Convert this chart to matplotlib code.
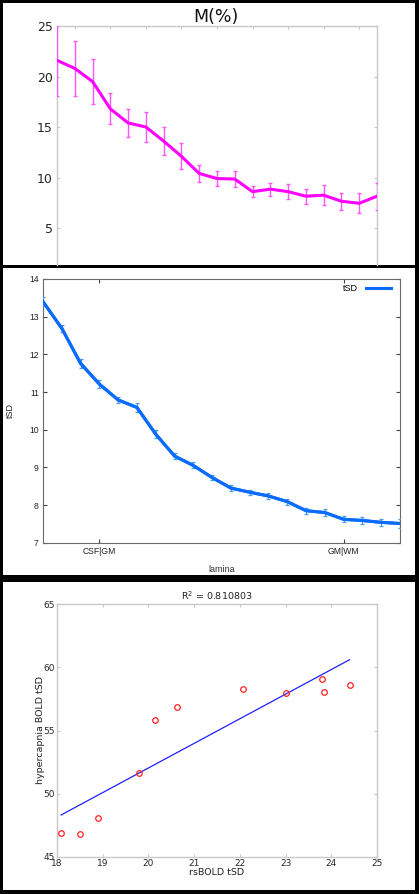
"""
Three stacked panels: M(%) per lamina, tSD per lamina, and a tSD scatter with fit
"""
import matplotlib
matplotlib.use('Agg')
import matplotlib.pyplot as plt
import numpy as np
from matplotlib.patches import Rectangle

# --- panel 1: M(%) per layer ---
m_layer = np.arange(1, 20)
m_mean = [21.6, 20.8, 19.5, 16.8, 15.4, 15.0, 13.6, 12.1, 10.4, 9.9, 9.85,
          8.6, 8.85, 8.6, 8.15, 8.25, 7.65, 7.45, 8.15]
m_err = [3.5, 2.7, 2.2, 1.55, 1.4, 1.45, 1.4, 1.3, 0.87, 0.7, 0.8,
         0.53, 0.65, 0.72, 0.74, 1.0, 0.85, 0.97, 1.33]

# --- panel 2: tSD per lamina ---
lamina = np.arange(1, 21)
tsd_mean = [13.40, 12.69, 11.76, 11.21, 10.79, 10.59, 9.88, 9.30, 9.05, 8.73,
            8.45, 8.34, 8.24, 8.09, 7.85, 7.80, 7.62, 7.59, 7.54, 7.51]
tsd_err = [0.12, 0.10, 0.11, 0.11, 0.09, 0.11, 0.10, 0.09, 0.08, 0.06,
           0.08, 0.07, 0.08, 0.08, 0.08, 0.10, 0.08, 0.09, 0.09, 0.13]
lamina_ticks = [4, 17]
lamina_labels = ['CSF|GM', 'GM|WM']

# --- panel 3: rsBOLD vs hypercapnia tSD ---
rs_tsd = [18.09, 18.50, 18.90, 19.79, 20.15, 20.63, 22.07, 23.00, 23.80, 23.85, 24.40]
hc_tsd = [46.85, 46.77, 48.06, 51.66, 55.86, 56.84, 58.32, 57.95, 59.06, 58.03, 58.63]

W, H = 419, 894


def px_axes(fig, x0, x1, y0, y1):
    """Axes from pixel box (y measured from top)"""
    return fig.add_axes([x0 / W, 1 - y1 / H, (x1 - x0) / W, (y1 - y0) / H])


def add_panel_bg(fig, x0, x1, y0, y1):
    fig.add_artist(Rectangle((x0 / W, 1 - y1 / H), (x1 - x0) / W, (y1 - y0) / H,
                             transform=fig.transFigure, facecolor='white',
                             edgecolor='none', zorder=-1))


def matlab_axes(ax, color='#c8c8c8', fs=9.5):
    for sp in ax.spines.values():
        sp.set_color(color)
        sp.set_linewidth(1.0)
    ax.tick_params(direction='in', length=2.5, width=0.8, color=color,
                   labelcolor='#262626', labelsize=fs, top=True, right=True)


fig = plt.figure(figsize=(W / 100, H / 100), dpi=100, facecolor='black')
add_panel_bg(fig, 3, 415, 3, 265)
add_panel_bg(fig, 3, 415, 268, 575)
add_panel_bg(fig, 3, 415, 582, 890)

# Panel 1
ax1 = px_axes(fig, 57, 377, 26, 265)
ax1.errorbar(m_layer, m_mean, yerr=m_err, color='#ff00ff', lw=2.2,
             ecolor='#ff55ff', elinewidth=1.0, capsize=1.5, capthick=1.0, zorder=3)
ax1.set_xlim(1, 19)
ax1.set_ylim(1.34, 25)
ax1.set_xticks(np.arange(2, 19, 2))
ax1.set_yticks([5, 10, 15, 20, 25])
matlab_axes(ax1, fs=9)
ax1.spines['bottom'].set_visible(False)
ax1.tick_params(bottom=False, labelbottom=False, pad=3)
ax1.set_facecolor('white')
fig.text(216 / W, 1 - 17 / H, 'M(%)', ha='center', va='center', fontsize=12.5, color='#111111')

# Panel 2 (gnuplot look)
gp = ['Liberation Sans', 'DejaVu Sans']
ax2 = px_axes(fig, 43, 400, 279, 542.7)
ax2.errorbar(lamina, tsd_mean, yerr=tsd_err, color='#0a6cff', lw=2.2,
             ecolor='#4a9cf0', elinewidth=0.9, capsize=1.5, capthick=0.9, zorder=3)
ax2.plot(lamina, tsd_mean, color='#0a6cff', lw=2.2, zorder=4)
ax2.set_xlim(1, 20)
ax2.set_ylim(7, 14)
ax2.set_xticks(lamina_ticks)
ax2.set_xticklabels(lamina_labels, fontfamily=gp)
ax2.set_yticks(np.arange(7, 15))
for sp in ax2.spines.values():
    sp.set_color('#6a6a6a')
    sp.set_linewidth(0.8)
ax2.tick_params(direction='in', length=3, width=0.8, color='#444444',
                labelcolor='#222222', labelsize=6.2, top=True, right=True, pad=3)
for lbl in ax2.get_yticklabels():
    lbl.set_fontfamily(gp)
ax2.set_xlabel('lamina', fontsize=6.5, fontfamily=gp, color='#333333')
ax2.xaxis.set_label_coords(0.5, -0.084)
ax2.set_ylabel('tSD', fontsize=6.5, fontfamily=gp, color='#222222')
ax2.yaxis.set_label_coords(-0.078, 0.5)
leg_h = plt.Line2D([], [], color='#0a6cff', lw=2.2)
leg = ax2.legend([leg_h], ['tSD'], loc='upper right', frameon=False,
                 markerfirst=False, handlelength=2.8, borderaxespad=0.0,
                 bbox_to_anchor=(0.985, 0.995), handletextpad=0.9,
                 prop={'family': gp, 'size': 6.5})

# Panel 3
ax3 = px_axes(fig, 57, 377, 604.3, 856.7)
ax3.plot(rs_tsd, hc_tsd, 'o', mfc='none', mec='#ff2020', ms=4, mew=0.9, zorder=3)
slope, intercept = np.polyfit(rs_tsd, hc_tsd, 1)
fx = np.array([min(rs_tsd), max(rs_tsd)])
ax3.plot(fx, slope * fx + intercept, color='#2020ff', lw=0.9, zorder=2)
ax3.set_xlim(18, 25)
ax3.set_ylim(45, 65)
ax3.set_xticks(np.arange(18, 26))
ax3.set_yticks([45, 50, 55, 60, 65])
matlab_axes(ax3, fs=6.5)
ax3.tick_params(axis='y', pad=1.5)
ax3.tick_params(axis='x', pad=2.0)
ax3.set_title('R$^2$ = 0.810803', fontsize=6.8, color='#222222', pad=3)
ax3.set_xlabel('rsBOLD tSD', fontsize=6.8, color='#222222')
ax3.xaxis.set_label_coords(0.5, -0.045)
ax3.set_ylabel('hypercapnia BOLD tSD', fontsize=6.8, color='#222222')
ax3.yaxis.set_label_coords(-0.038, 0.5)

plt.savefig('out.png', dpi=100, facecolor='black')
plt.close()
